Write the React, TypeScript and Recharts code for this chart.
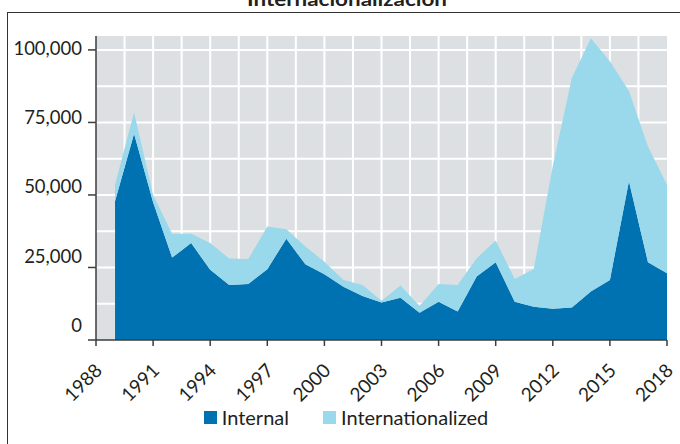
import React from "react"
import { AreaChart, Area, XAxis, YAxis, CartesianGrid, Legend } from "recharts"

// Conflictos internos vs. internacionalizados, 1989-2018 (áreas apiladas)

const years = [
  1989, 1990, 1991, 1992, 1993, 1994, 1995, 1996, 1997, 1998,
  1999, 2000, 2001, 2002, 2003, 2004, 2005, 2006, 2007, 2008,
  2009, 2010, 2011, 2012, 2013, 2014, 2015, 2016, 2017, 2018,
]
const internal = [
  47800, 71100, 47500, 28400, 33400, 24200, 19000, 19300, 24400, 34900,
  26100, 22700, 18400, 15200, 12900, 14600, 9400, 13200, 9800, 21900,
  26800, 13200, 11500, 10800, 11200, 16700, 20700, 54700, 26800, 23000,
]
const internationalized = [
  5700, 7400, 2500, 8200, 3200, 9200, 9100, 8600, 14700, 3300,
  6100, 4300, 2300, 3800, 600, 4200, 2300, 6100, 9200, 6300,
  7500, 7800, 13000, 49200, 79200, 87300, 75400, 31100, 39900, 30500,
]
const xTicks = [1988, 1991, 1994, 1997, 2000, 2003, 2006, 2009, 2012, 2015, 2018]
const yTicks = [0, 25000, 50000, 75000, 100000]
const gridY = [12500, 25000, 37500, 50000, 62500, 75000, 87500, 100000]
const gridX = [
  1989.5, 1991, 1992.5, 1994, 1995.5, 1997, 1998.5, 2000, 2001.5, 2003,
  2004.5, 2006, 2007.5, 2009, 2010.5, 2012, 2013.5, 2015, 2016.5,
]

const data = years.map((year, i) => ({
  year,
  internal: internal[i],
  internationalized: internationalized[i],
}))

const FONT = "Lato, 'Open Sans', sans-serif"
const INK = "#231f20"
const AXIS = "#3d3d3d"
const BLUE = "#0072b2"
const LIGHT = "#9ad8ec"

const fmt = (v: number) => v.toLocaleString("en-US")

function YTick({ x, y, payload }: any) {
  const v = payload.value as number
  // las etiquetas del original quedan un poco por encima de cada marca
  const lift = 2 + ((100000 - v) / 25000) * 3.3
  return (
    <text x={x} y={y - lift} textAnchor="end" dominantBaseline="central"
      fontFamily={FONT} fontSize={18.5} fill={INK}>
      {fmt(v)}
    </text>
  )
}

function XTick({ x, y, payload }: any) {
  return (
    <text x={x} y={y} dx={-3} dy="0.71em" textAnchor="end"
      transform={`rotate(-45 ${x} ${y})`}
      fontFamily={FONT} fontSize={19} fill={INK}>
      {payload.value}
    </text>
  )
}

function LegendBox() {
  const items = [
    { label: "Internal", color: BLUE },
    { label: "Internationalized", color: LIGHT },
  ]
  return (
    <div style={{ display: "flex", justifyContent: "center", alignItems: "center", height: 30, paddingLeft: 12, gap: 34 }}>
      {items.map((it) => (
        <div key={it.label} style={{ display: "flex", alignItems: "center" }}>
          <span style={{ width: 13, height: 13, background: it.color, display: "inline-block", marginRight: 5 }} />
          <span style={{ fontFamily: FONT, fontSize: 20, color: INK }}>{it.label}</span>
        </div>
      ))}
    </div>
  )
}

export default function App() {
  return (
    <div style={{ position: "absolute", left: 0, top: 0, width: 680, height: 444, overflow: "hidden", background: "#fff" }}>
      <div style={{ position: "absolute", left: 7, top: 12, width: 700, height: 460, border: "1.5px solid #333" }} />
      <svg width={680} height={20} style={{ position: "absolute", left: 0, top: 0 }}>
        <text x={347} y={6} textAnchor="middle" fontFamily={FONT} fontWeight={700} fontSize={19} fill={INK}
          textLength={200} lengthAdjust="spacingAndGlyphs">
          Internacionalización
        </text>
      </svg>
      <div style={{ position: "absolute", left: 0, top: 0 }}>
        <AreaChart width={680} height={444} data={data} margin={{ top: 36, right: 13, left: 0, bottom: 12 }}>
          <CartesianGrid fill="#dde0e3" stroke="#ffffff" strokeWidth={2}
            horizontalValues={gridY} verticalValues={gridX} />
          <Area type="linear" dataKey="internal" name="Internal" stackId="a" stroke="none"
            fill={BLUE} fillOpacity={1} isAnimationActive={false} />
          <Area type="linear" dataKey="internationalized" name="Internationalized" stackId="a" stroke="none"
            fill={LIGHT} fillOpacity={1} isAnimationActive={false} />
          <XAxis dataKey="year" type="number" domain={[1988, 2018]} ticks={xTicks} interval={0}
            height={62} tickSize={6} tickMargin={14} tick={<XTick />}
            axisLine={{ stroke: AXIS, strokeWidth: 1.5 }} tickLine={{ stroke: AXIS, strokeWidth: 1.5 }} />
          <YAxis type="number" domain={[0, 104800]} ticks={yTicks} interval={0} width={96}
            allowDataOverflow tickSize={8} tickMargin={6} tick={<YTick />}
            axisLine={{ stroke: AXIS, strokeWidth: 1.5 }} tickLine={{ stroke: AXIS, strokeWidth: 1.5 }} />
          <Legend verticalAlign="bottom" content={<LegendBox />} wrapperStyle={{ left: 0, width: 680 }} />
        </AreaChart>
      </div>
    </div>
  )
}
